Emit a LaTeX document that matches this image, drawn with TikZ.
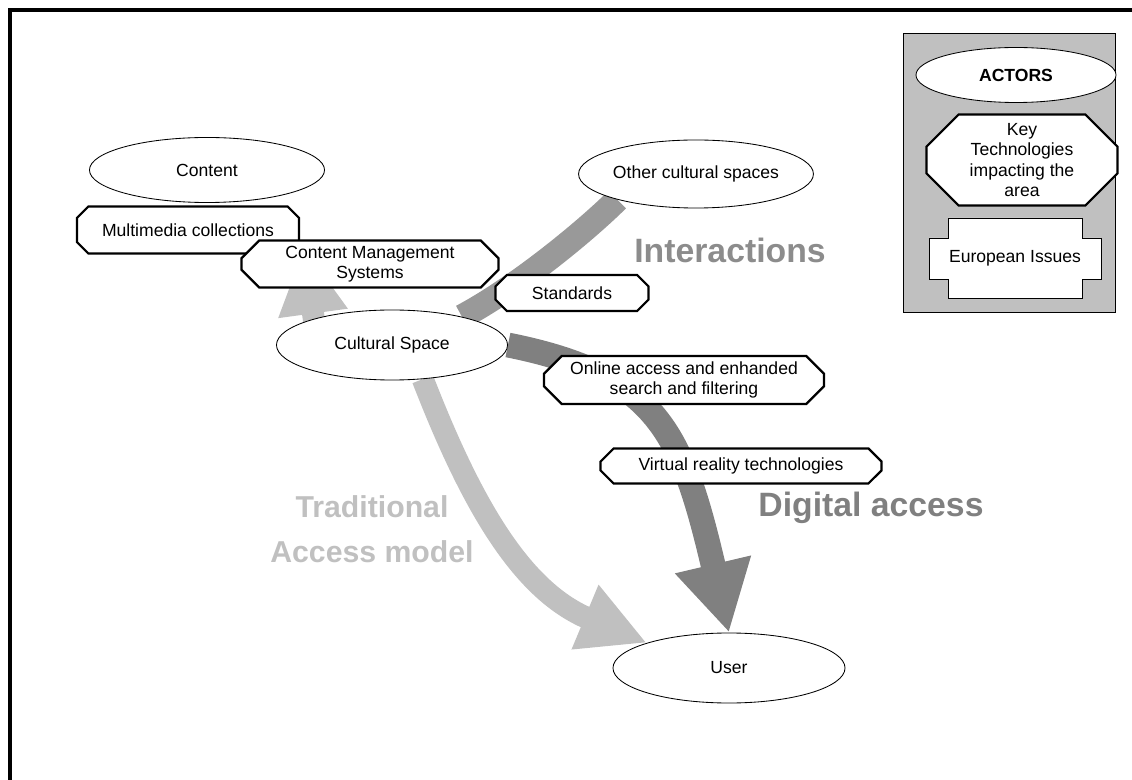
\documentclass[tikz,border=0pt]{standalone}
\usepackage{fontspec}
\setmainfont{Liberation Sans}
\usetikzlibrary{arrows.meta, positioning, shapes.geometric, shapes.misc, backgrounds}

\definecolor{lightband}{HTML}{C0C0C0}
\definecolor{midband}{HTML}{999999}
\definecolor{darkband}{HTML}{808080}
\definecolor{intercol}{HTML}{8C8C8C}

\begin{document}
\begin{tikzpicture}[
  x=0.025cm, y=-0.025cm,
  every node/.style = {font=\fontsize{12.5}{14.6}\selectfont, align=center},
  actor/.style = {ellipse, draw, line width=0.6pt, fill=white, inner sep=0pt},
  tech/.style = {chamfered rectangle, chamfered rectangle xsep=0.32cm, draw, line width=1.6pt, fill=white, inner sep=0pt},
  flow/.style = {font=\fontsize{24}{32}\selectfont\bfseries},
  tradarrow/.style = {line width=0.55cm, lightband, -{Triangle[length=1.675cm, width=1.625cm]}},
  digiarrow/.style = {line width=0.62cm, darkband, -{Triangle[length=1.75cm, width=1.825cm]}},
  interband/.style = {line width=0.62cm, midband}
]
  \useasboundingbox (0,0) rectangle (1132,780);
  \draw[line width=0.1cm] (10,780) |- (1132,10);

  % actors
  \node[actor, minimum width=5.875cm, minimum height=1.625cm] (content) at (207,170) {Content};
  \node[actor, minimum width=5.85cm, minimum height=1.7cm] (other) at (696,174) {Other cultural spaces};
  \node[actor, minimum width=5.775cm, minimum height=1.75cm] (cs) at (392,345) {Cultural Space};
  \node[actor, minimum width=5.8cm, minimum height=1.75cm] (user) at (729,668) {User};

  % key technologies
  \node[tech, minimum width=5.55cm, minimum height=1.175cm] (multimedia) at (188,230) {Multimedia collections};
  \node[tech, minimum width=6.425cm, minimum height=1.175cm] (cms) at (370,264) {Content Management\\Systems};
  \node[tech, minimum width=3.825cm, minimum height=0.9cm] (standards) at (572,293) {Standards};
  \node[tech, minimum width=7cm, minimum height=1.2cm] (online) at (684,380) {Online access and enhanded\\search and filtering};
  \node[tech, minimum width=7.025cm, minimum height=0.875cm] (virtual) at (741,466) {Virtual reality technologies};

  % flow labels
  \node[flow, text=intercol] (interactions) at (730,250) {Interactions};
  \node[flow, text=darkband] (digital) at (871,508) {Digital access};
  \node[flow, text=lightband, font=\fontsize{21.5}{32}\selectfont\bfseries] (traditional) at (372,529) {Traditional\\Access model};

  \coordinate (upfoot) at (318,350);
  \coordinate (uptip) at (304,247);

  \begin{scope}[on background layer]
    \draw[interband] (other.198) .. controls +(-28,28) and +(58,-31) .. (cs.22);
    \draw[tradarrow] (cs.-48) .. controls +(47,121) and +(-127,-53) .. (user.163);
    \draw[digiarrow] (cs.east) .. controls +(150,30) and +(-47,-200) .. (user.north);
    \draw[tradarrow] (upfoot) -- (uptip);
  \end{scope}

  % legend
  \node[draw, line width=0.6pt, fill=lightband, minimum width=5.3cm, minimum height=6.975cm] (legend) at (1009,172.5) {};
  \node[actor, minimum width=5cm, minimum height=1.375cm, font=\fontsize{12.5}{14.6}\selectfont\bfseries] (actors) at (1016,75) {ACTORS};
  \node[tech, chamfered rectangle xsep=0.68cm, minimum width=4.775cm, minimum height=2.275cm] (keytech) at (1022,160) {Key\\Technologies\\impacting the\\area};
  \draw[fill=white, line width=0.6pt] (948,218) -- (1082,218) -- (1082,238) -- (1101,238) -- (1101,279) -- (1082,279) -- (1082,298) -- (948,298) -- (948,279) -- (929,279) -- (929,238) -- (948,238) -- cycle;
  \node (issues) at (1015,258) {European Issues};
\end{tikzpicture}
\end{document}
